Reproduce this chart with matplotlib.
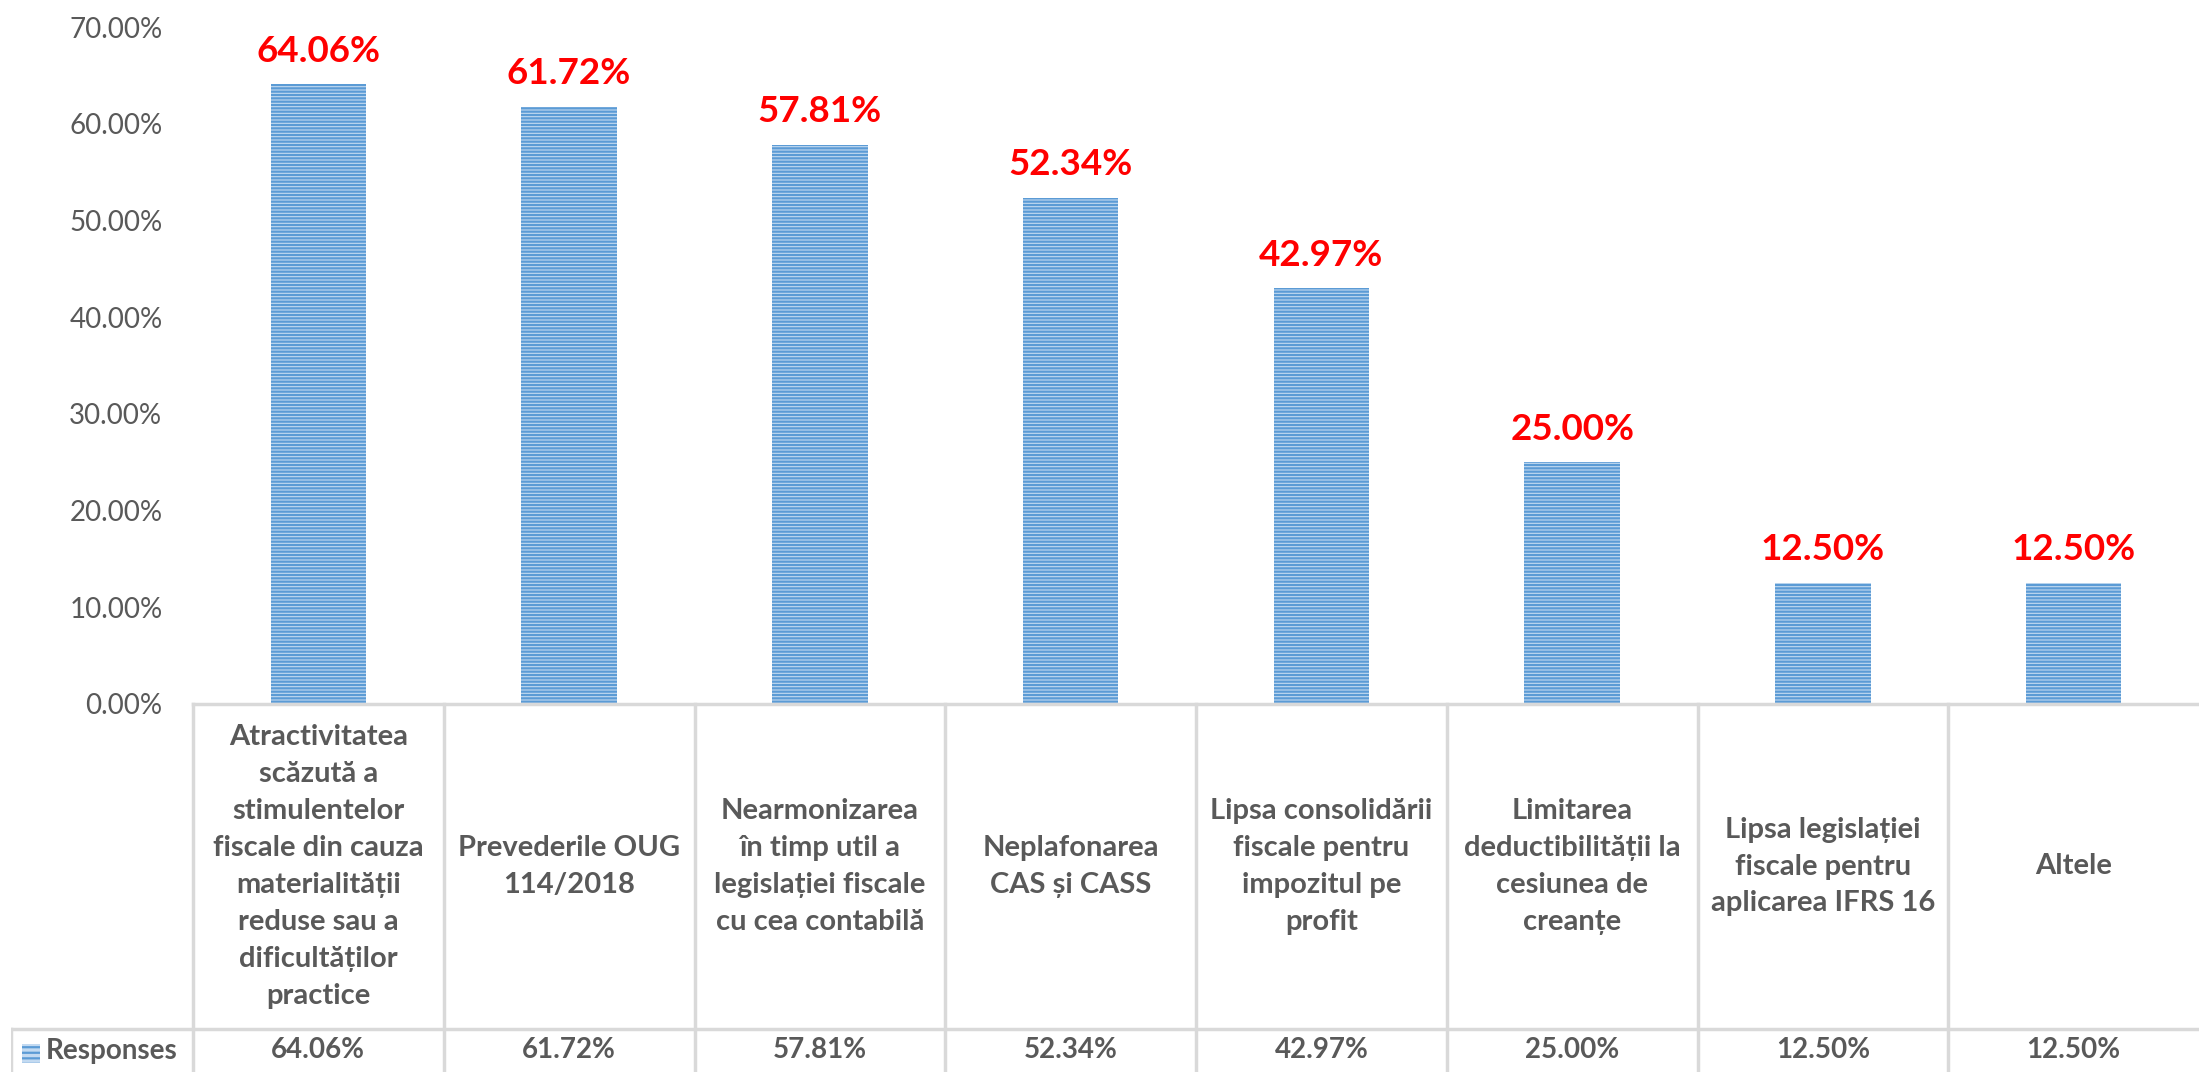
import matplotlib
matplotlib.use("Agg")
import matplotlib.pyplot as plt
from matplotlib.patches import Rectangle
from matplotlib.ticker import FuncFormatter

plt.rcParams["font.family"] = ["Lato", "DejaVu Sans"]
plt.rcParams["hatch.linewidth"] = 1.6

categories = [
    "Atractivitatea\nscăzută a\nstimulentelor\nfiscale din cauza\nmaterialității\nreduse sau a\ndificultăților\npractice",
    "Prevederile OUG\n114/2018",
    "Nearmonizarea\nîn timp util a\nlegislației fiscale\ncu cea contabilă",
    "Neplafonarea\nCAS și CASS",
    "Lipsa consolidării\nfiscale pentru\nimpozitul pe\nprofit",
    "Limitarea\ndeductibilității la\ncesiunea de\ncreanțe",
    "Lipsa legislației\nfiscale pentru\naplicarea IFRS 16",
    "Altele",
]
responses = [64.06, 61.72, 57.81, 52.34, 42.97, 25.00, 12.50, 12.50]
series_name = "Responses"
y_ticks = [0, 10, 20, 30, 40, 50, 60, 70]

W, H = 2199, 1072
GRAY = "#595959"
GRID = "#d9d9d9"
BAR_FACE = "#c3daf1"
BAR_LINE = "#5b9bd5"

# pixel layout of the original
plot_left, axis_y, top_y = 193, 704, 27
legend_left, row_split = 11, 1029

fig = plt.figure(figsize=(W / 100, H / 100), dpi=100)

ax = fig.add_axes([plot_left / W, (H - axis_y) / H, (W - plot_left) / W, (axis_y - top_y) / H])
x = list(range(len(responses)))
ax.bar(x, responses, width=0.38, color=BAR_FACE, edgecolor=BAR_LINE,
       hatch="-----", linewidth=0)

for xi, v in zip(x, responses):
    ax.annotate(f"{v:.2f}%", (xi, v), xytext=(0, 12), textcoords="offset points",
                ha="center", va="bottom", color="red", fontsize=26.5, fontweight="bold")

ax.set_xlim(-0.5, len(responses) - 0.5)
ax.set_ylim(0, 70)
ax.set_yticks(y_ticks)
ax.yaxis.set_major_formatter(FuncFormatter(lambda v, _: f"{v:.2f}%"))
ax.tick_params(axis="y", length=0, pad=22, labelsize=20, labelcolor=GRAY)
ax.set_xticks([])
for s in ax.spines.values():
    s.set_visible(False)
ax.patch.set_alpha(0)

# data table under the axis
col_w = (W - plot_left) / len(responses)
tax = fig.add_axes([legend_left / W, 0, (W - legend_left) / W, (H - axis_y) / H])
tax.set_xlim(-0.5 - (plot_left - legend_left) / col_w, len(responses) - 0.5)
tax.set_ylim(0, 1)
tax.axis("off")
split = (H - row_split) / (H - axis_y)
x0 = tax.get_xlim()[0]

tax.plot([-0.5, len(responses) - 0.5], [1, 1], color=GRID, lw=2.5, clip_on=False)
tax.plot([x0, len(responses) - 0.5], [split, split], color=GRID, lw=2.5)
tax.plot([x0, x0], [0, split], color=GRID, lw=2.5)
for k in range(len(responses)):
    tax.plot([k - 0.5, k - 0.5], [0, 1], color=GRID, lw=2.5, clip_on=False)

for xi, (cat, v) in enumerate(zip(categories, responses)):
    tax.text(xi, (1 + split) / 2, cat, ha="center", va="center", color=GRAY,
             fontsize=21, fontweight="bold", linespacing=1.52)
    tax.text(xi, split / 2, f"{v:.2f}%", ha="center", va="center", color=GRAY,
             fontsize=20, fontweight="bold")

# legend key cell
tax.add_patch(Rectangle((x0 + 0.045, split * 0.2), 0.07, split * 0.45,
                        facecolor=BAR_FACE, edgecolor=BAR_LINE, hatch="---", linewidth=0))
tax.text(x0 + 0.14, split / 2, series_name, ha="left", va="center", color=GRAY,
         fontsize=20, fontweight="bold")

fig.savefig("out.png", dpi=100)
